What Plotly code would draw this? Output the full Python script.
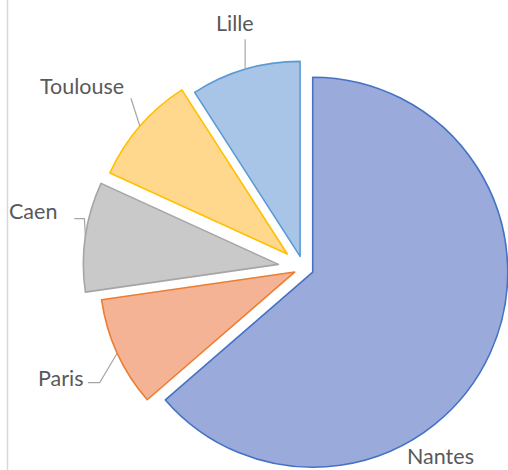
import math
import plotly.graph_objects as go

# ---- data ----
labels = ["Nantes", "Paris", "Caen", "Toulouse", "Lille"]
values = [7, 1, 1, 1, 1]

# ---- styles ----
fill_colors = ["#9AAADB", "#F5B396", "#C9C9C9", "#FFD88E", "#A8C4E7"]
line_colors = ["#4472C4", "#ED7D31", "#A5A5A5", "#FFC000", "#5B9BD5"]
explode = [0.052, 0.05, 0.13, 0.11, 0.062]  # fraction of radius

W, H = 508, 470
R = 195.0
CX, CY = 303.5, 268.0  # common pie centre (pixels)

# label offsets relative to the slice's arc midpoint (pixels)
label_off = [(-50, 103), (-56, 25), (-52, -26), (-58, -40), (-10, -46)]
leader_pts = [
    [],
    [(-17.5, 29.5), (-29.5, 29.5)],
    [(-1, -18), (-11, -18)],
    [(-9, -28)],
    [(0, -30)],
]

total = float(sum(values))
fig = go.Figure()
shapes = []
annotations = []

start = 0.0
for i, v in enumerate(values):
    frac = v / total
    mid = (start + frac / 2.0) * 2 * math.pi  # clockwise from 12 o'clock
    start += frac
    ux, uy = math.sin(mid), -math.cos(mid)
    d = explode[i] * R
    cx, cy = CX + d * ux, CY + d * uy
    x0 = max(0.0, (cx - R) / W)
    x1 = min(1.0, (cx + R) / W)
    y0 = max(0.0, 1 - (cy + R) / H)
    y1 = min(1.0, 1 - (cy - R) / H)

    colors = ["rgba(0,0,0,0)"] * len(values)
    lcols = ["rgba(0,0,0,0)"] * len(values)
    lw = [0] * len(values)
    colors[i] = fill_colors[i]
    lcols[i] = line_colors[i]
    lw[i] = 1.6

    fig.add_trace(go.Pie(
        labels=labels, values=values, sort=False, direction="clockwise",
        rotation=0, textinfo="none", hoverinfo="skip",
        marker=dict(colors=colors, line=dict(color=lcols, width=lw)),
        domain=dict(x=[x0, x1], y=[y0, y1]), showlegend=False,
    ))

    # arc midpoint
    ax_, ay_ = cx + R * ux, cy + R * uy
    tx, ty = ax_ + label_off[i][0], ay_ + label_off[i][1]
    annotations.append(dict(
        x=tx / W, y=1 - ty / H, xref="paper", yref="paper",
        text=labels[i], showarrow=False, xanchor="center", yanchor="middle",
        font=dict(family="Lato", size=21.5, color="#595959"),
    ))
    if leader_pts[i]:
        pts = [(ax_, ay_)] + [(ax_ + px, ay_ + py) for px, py in leader_pts[i]]
        path = "M " + " L ".join(f"{p[0] / W:.5f},{1 - p[1] / H:.5f}" for p in pts)
        shapes.append(dict(type="path", xref="paper", yref="paper", path=path,
                           line=dict(color="#A6A6A6", width=1.2)))

# chart-area left border
shapes.append(dict(type="line", xref="paper", yref="paper",
                   x0=7.5 / W, x1=7.5 / W, y0=0, y1=1,
                   line=dict(color="#D9D9D9", width=1.5)))

fig.update_layout(
    width=W, height=H, margin=dict(l=0, r=0, t=0, b=0),
    paper_bgcolor="white", plot_bgcolor="white",
    shapes=shapes, annotations=annotations,
)

fig.write_html(
    "out.html",
    config={"displayModeBar": False},
    post_script="document.body.style.margin='0px';document.body.style.overflow='hidden';",
)
